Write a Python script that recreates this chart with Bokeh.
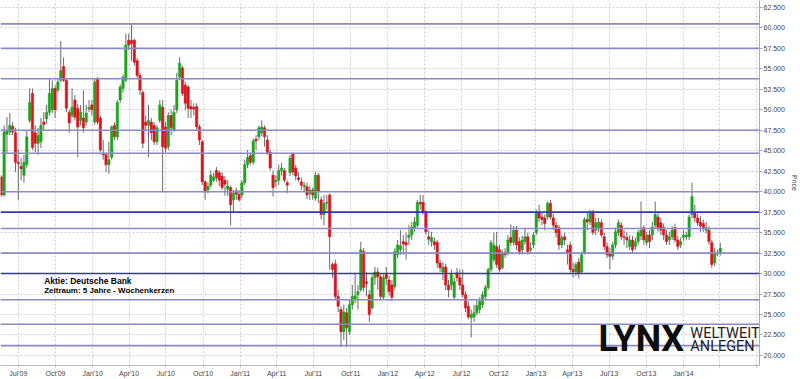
import pandas as pd
from bokeh.plotting import figure
from bokeh.models import (Range1d, FixedTicker, Span, Label, ColumnDataSource,
                          NumeralTickFormatter)
from bokeh.embed import file_html
from bokeh.resources import INLINE

# ---------------- data (weekly candles, Deutsche Bank) ----------------
first_week = "2009-05-20"

opens = [
    41.8, 39.6, 47.0, 47.3, 48.0, 47.2, 43.6, 43.1, 42.0, 43.3,
    48.7, 52.0, 47.2, 45.9, 46.1, 48.5, 48.9, 49.7, 50.0, 52.6,
    52.4, 53.6, 55.3, 53.6, 49.7, 49.3, 51.2, 50.2, 48.7, 49.0,
    48.5, 50.1, 50.6, 48.5, 53.7, 49.0, 44.7, 44.5, 43.3, 44.2,
    48.1, 46.7, 51.2, 52.6, 53.6, 58.5, 58.5, 58.5, 56.0, 54.2,
    52.1, 48.5, 48.1, 48.5, 48.1, 46.1, 48.7, 50.3, 47.9, 45.5,
    49.3, 47.5, 50.0, 54.0, 55.1, 53.0, 52.8, 50.4, 50.3, 50.4,
    47.9, 46.1, 41.2, 40.2, 40.8, 41.4, 42.6, 42.3, 41.9, 41.4,
    40.3, 40.5, 39.0, 40.1, 39.7, 39.6, 41.1, 43.3, 44.4, 43.6,
    46.4, 46.7, 47.2, 47.8, 46.3, 44.8, 42.0, 41.2, 41.4, 42.6,
    42.6, 41.1, 42.3, 44.6, 42.9, 41.7, 41.2, 40.6, 40.6, 39.8,
    40.2, 39.2, 42.0, 39.0, 37.2, 38.6, 39.6, 31.1, 31.2, 27.2,
    25.6, 22.9, 25.2, 22.9, 26.2, 26.8, 27.4, 28.0, 32.7, 29.0,
    27.4, 25.8, 29.5, 30.2, 29.6, 27.1, 29.9, 29.2, 28.6, 28.4,
    32.3, 32.9, 33.9, 33.8, 34.4, 34.7, 35.6, 35.9, 38.7, 38.7,
    37.5, 34.5, 33.9, 33.9, 33.8, 31.3, 30.2, 30.8, 28.6, 28.6,
    27.1, 30.1, 29.5, 28.6, 27.4, 26.0, 24.6, 24.7, 25.2, 25.6,
    26.2, 27.2, 28.3, 30.5, 31.7, 33.3, 32.9, 30.7, 32.6, 32.5,
    34.4, 33.8, 35.3, 33.9, 32.9, 33.9, 34.5, 32.9, 33.5, 35.0,
    37.4, 36.9, 36.8, 36.9, 38.6, 36.8, 35.9, 35.6, 33.5, 34.5,
    32.9, 33.5, 30.5, 30.2, 31.4, 30.2, 32.5, 36.6, 36.3, 37.5,
    35.3, 35.6, 36.2, 34.5, 33.3, 32.5, 32.1, 33.5, 35.0, 35.9,
    34.5, 34.4, 33.3, 34.1, 33.3, 33.9, 34.6, 35.6, 33.8, 34.7,
    34.7, 35.9, 36.9, 36.2, 35.6, 34.7, 34.1, 34.5, 35.6, 34.1,
    33.5, 34.4, 34.5, 34.5, 37.2, 37.4, 36.8, 36.3, 36.1, 35.3,
    35.3, 33.8, 31.3, 32.5, 32.5,
]
highs = [
    42.0, 48.1, 49.1, 49.6, 48.5, 47.8, 45.1, 44.1, 44.5, 47.5,
    52.6, 52.6, 48.1, 47.8, 49.0, 49.7, 50.6, 53.8, 53.6, 53.0,
    53.8, 58.4, 56.4, 53.9, 50.0, 52.6, 51.8, 50.7, 50.6, 52.4,
    50.6, 51.2, 51.2, 53.8, 54.0, 49.3, 46.3, 44.8, 46.1, 48.1,
    48.5, 51.2, 53.1, 54.3, 59.3, 59.3, 60.5, 58.7, 56.3, 54.5,
    52.4, 49.3, 50.6, 49.0, 48.5, 48.1, 51.2, 51.2, 48.5, 49.7,
    50.0, 50.6, 54.5, 56.4, 55.4, 53.4, 53.0, 51.2, 50.8, 50.8,
    48.2, 46.3, 41.4, 41.1, 42.6, 42.3, 43.0, 42.6, 42.4, 41.9,
    41.4, 40.7, 40.2, 40.5, 40.2, 41.4, 43.9, 45.1, 44.7, 46.5,
    46.9, 48.1, 48.7, 48.1, 46.9, 45.1, 42.6, 42.0, 43.3, 43.5,
    42.9, 41.4, 44.5, 44.8, 43.3, 42.4, 41.7, 41.2, 41.1, 40.7,
    40.5, 42.4, 42.3, 39.4, 39.6, 39.6, 39.8, 31.4, 31.7, 28.0,
    26.0, 26.2, 25.8, 26.8, 28.6, 30.1, 28.6, 33.9, 33.1, 30.2,
    28.0, 29.9, 30.8, 30.7, 29.9, 29.9, 30.8, 29.7, 29.2, 33.1,
    34.1, 35.3, 34.7, 35.0, 35.9, 36.3, 36.9, 39.0, 39.6, 39.6,
    37.8, 35.3, 35.1, 34.4, 34.1, 31.7, 31.4, 31.2, 29.2, 30.5,
    29.5, 30.7, 30.5, 30.5, 27.8, 26.6, 25.6, 26.2, 26.8, 27.1,
    27.8, 28.6, 30.7, 34.1, 35.0, 35.1, 33.5, 32.9, 33.1, 34.7,
    36.0, 35.8, 35.8, 34.4, 34.6, 35.6, 35.0, 33.8, 35.1, 37.8,
    38.4, 37.5, 37.2, 38.8, 39.0, 37.3, 36.3, 35.9, 34.7, 35.0,
    33.5, 33.9, 31.4, 31.4, 31.9, 32.7, 36.9, 37.5, 37.8, 37.8,
    36.8, 36.8, 36.6, 35.0, 33.8, 33.1, 33.9, 35.6, 36.6, 36.3,
    35.3, 35.1, 34.7, 34.6, 34.4, 35.3, 38.8, 35.9, 35.1, 35.3,
    36.3, 38.8, 37.5, 36.8, 36.1, 35.3, 35.1, 35.8, 36.1, 34.6,
    34.4, 35.3, 35.1, 37.2, 41.1, 38.4, 37.3, 37.0, 36.6, 36.3,
    35.8, 34.1, 33.1, 32.9, 33.8,
]
lows = [
    39.4, 39.4, 44.7, 46.9, 46.9, 42.4, 39.0, 41.4, 41.1, 42.9,
    48.4, 45.1, 44.8, 44.5, 45.3, 47.5, 48.3, 49.3, 49.6, 49.0,
    52.1, 53.4, 53.4, 49.7, 47.2, 49.0, 48.7, 44.2, 48.1, 47.2,
    48.1, 49.7, 49.3, 48.2, 48.2, 44.8, 43.9, 42.4, 42.2, 43.9,
    46.3, 46.3, 50.8, 52.1, 53.4, 57.3, 56.0, 55.4, 53.9, 51.8,
    45.3, 47.5, 44.2, 46.3, 45.7, 45.7, 48.4, 40.0, 44.8, 45.1,
    46.9, 47.3, 49.6, 53.6, 51.7, 50.0, 49.0, 49.0, 49.3, 47.5,
    45.7, 40.8, 39.0, 39.8, 40.5, 41.2, 41.2, 40.7, 40.2, 39.5,
    39.5, 35.9, 37.5, 39.0, 38.8, 39.2, 40.8, 42.9, 43.3, 43.3,
    45.1, 46.3, 46.8, 45.5, 44.5, 42.6, 39.4, 40.6, 40.8, 42.0,
    41.1, 39.8, 41.9, 42.0, 41.4, 41.2, 40.2, 40.0, 39.1, 39.0,
    39.0, 38.9, 38.6, 36.6, 35.9, 37.8, 30.5, 29.5, 26.8, 25.3,
    21.0, 21.9, 21.0, 22.5, 25.6, 26.4, 25.6, 27.8, 27.8, 27.2,
    24.1, 25.6, 28.6, 28.0, 26.8, 26.8, 28.6, 27.3, 26.6, 28.0,
    31.9, 32.3, 32.3, 31.7, 33.5, 34.1, 35.1, 35.6, 37.8, 37.2,
    34.7, 33.5, 33.3, 32.9, 30.7, 30.2, 29.2, 28.0, 27.1, 28.0,
    26.8, 29.0, 28.0, 27.1, 25.3, 24.4, 22.2, 24.1, 24.9, 25.1,
    25.8, 26.8, 28.0, 30.2, 31.4, 30.7, 30.2, 30.5, 31.9, 32.2,
    33.4, 33.4, 32.9, 32.3, 32.3, 33.5, 32.3, 32.5, 33.1, 34.7,
    36.3, 35.9, 35.3, 36.6, 36.6, 35.3, 34.4, 32.9, 33.1, 33.5,
    31.1, 30.1, 29.5, 29.7, 29.4, 30.0, 32.3, 35.3, 35.9, 34.7,
    34.7, 35.1, 34.4, 32.9, 31.9, 30.5, 31.7, 33.1, 34.6, 34.1,
    33.5, 33.1, 32.9, 32.5, 32.9, 33.5, 34.1, 33.5, 33.4, 33.1,
    34.1, 35.6, 35.1, 34.7, 34.1, 33.5, 33.5, 34.1, 33.8, 32.9,
    33.1, 34.0, 34.1, 34.1, 36.8, 36.3, 35.8, 35.1, 35.1, 34.9,
    33.5, 30.7, 30.9, 32.1, 32.2,
]
closes = [
    39.6, 47.3, 47.4, 48.1, 47.3, 43.6, 43.4, 42.8, 43.6, 46.7,
    50.9, 45.4, 45.9, 46.9, 48.1, 48.2, 49.7, 52.0, 52.6, 50.0,
    53.4, 54.8, 53.6, 50.2, 48.4, 50.3, 49.1, 47.9, 49.7, 47.8,
    49.6, 50.3, 50.0, 53.4, 48.5, 45.1, 44.5, 43.3, 43.9, 47.9,
    46.7, 50.9, 52.8, 54.0, 57.9, 57.9, 58.1, 55.8, 54.2, 52.4,
    45.9, 48.1, 48.7, 47.2, 46.1, 47.8, 50.6, 45.5, 45.3, 49.3,
    47.8, 49.7, 53.6, 55.7, 52.0, 50.8, 50.2, 50.1, 50.1, 47.9,
    46.3, 41.2, 40.0, 40.7, 42.0, 41.8, 41.7, 41.4, 40.5, 40.9,
    40.7, 38.4, 39.8, 39.7, 39.0, 41.1, 43.3, 44.2, 43.6, 46.2,
    46.2, 47.8, 47.9, 46.7, 44.8, 42.9, 40.5, 41.4, 42.6, 42.9,
    41.4, 40.8, 44.1, 42.4, 41.9, 41.5, 40.8, 40.8, 39.6, 40.2,
    39.6, 42.0, 40.0, 37.2, 38.6, 38.7, 34.5, 30.5, 27.2, 26.0,
    22.9, 25.3, 23.4, 26.2, 27.2, 27.3, 27.8, 32.9, 28.3, 28.8,
    25.0, 29.5, 30.2, 29.6, 27.2, 29.5, 29.4, 27.8, 27.1, 32.7,
    33.5, 33.4, 33.6, 33.5, 34.7, 35.7, 36.3, 38.7, 38.5, 37.5,
    35.1, 34.2, 34.4, 33.5, 31.3, 30.7, 30.8, 28.6, 28.0, 29.9,
    29.0, 29.5, 28.6, 27.4, 25.8, 24.7, 25.0, 25.2, 26.1, 26.6,
    27.4, 28.3, 30.5, 33.8, 33.5, 31.1, 30.5, 32.5, 32.3, 34.1,
    33.8, 35.3, 33.5, 32.7, 34.1, 34.5, 32.7, 33.1, 34.7, 37.4,
    36.8, 36.6, 36.1, 38.6, 36.9, 35.9, 35.0, 33.5, 34.4, 34.1,
    32.5, 30.5, 30.2, 31.1, 30.1, 32.3, 36.6, 36.3, 37.5, 35.0,
    36.2, 36.3, 34.7, 33.3, 32.3, 32.1, 33.5, 35.1, 36.2, 34.5,
    34.4, 34.1, 34.1, 32.9, 33.9, 35.0, 35.3, 34.1, 34.7, 33.9,
    35.7, 37.2, 35.6, 35.3, 34.7, 33.9, 34.5, 35.3, 34.1, 33.3,
    33.9, 34.7, 34.7, 36.9, 39.4, 36.8, 36.2, 35.8, 35.6, 35.6,
    33.9, 31.1, 32.6, 32.4, 33.1,
]

# analyst's horizontal support / resistance lines
light_levels = [60.5, 57.5, 53.8, 47.5, 44.7, 40.0, 35.5, 32.5, 26.8, 23.8, 21.2]
strong_levels = [37.5, 30.0]

# axis ticks
x_tick_dates = ["2009-07-01", "2009-10-01", "2010-01-01", "2010-04-01", "2010-07-01",
                "2010-10-01", "2011-01-01", "2011-04-01", "2011-07-01", "2011-10-01",
                "2012-01-01", "2012-04-01", "2012-07-01", "2012-10-01", "2013-01-01",
                "2013-04-01", "2013-07-01", "2013-10-01", "2014-01-01", "2014-04-01",
                "2014-07-01"]
x_tick_labels = ["Jul'09", "Oct'09", "Jan'10", "Apr'10", "Jul'10", "Oct'10", "Jan'11",
                 "Apr'11", "Jul'11", "Oct'11", "Jan'12", "Apr'12", "Jul'12", "Oct'12",
                 "Jan'13", "Apr'13", "Jul'13", "Oct'13", "Jan'14", "", ""]
y_ticks = [20.0, 22.5, 25.0, 27.5, 30.0, 32.5, 35.0, 37.5, 40.0, 42.5, 45.0,
           47.5, 50.0, 52.5, 55.0, 57.5, 60.0, 62.5]

# ---------------- build ----------------
def ms(d):
    return float(pd.Timestamp(d).value // 10**6)

DAY = 86400000.0
dates = pd.date_range(first_week, periods=len(closes), freq="7D")
up_col, dn_col = "#1ea51e", "#d9161c"
src = ColumnDataSource(dict(
    date=dates,
    top=[max(o, c) for o, c in zip(opens, closes)],
    bottom=[min(o, c) for o, c in zip(opens, closes)],
    high=highs, low=lows,
    color=[up_col if c >= o else dn_col for o, c in zip(opens, closes)],
))

p = figure(width=800, height=379, x_axis_type="datetime", y_axis_location="right",
           toolbar_location=None, output_backend="svg",
           x_range=Range1d(ms("2009-05-18"), ms("2014-07-08")),
           y_range=Range1d(18.77, 63.35),
           min_border_left=0, min_border_top=0, min_border_right=0, min_border_bottom=0)
p.outline_line_color = None
p.background_fill_color = "white"

tick_ms = [ms(d) for d in x_tick_dates]
p.xgrid.ticker = FixedTicker(ticks=tick_ms)
p.ygrid.ticker = FixedTicker(ticks=y_ticks)
for g in (p.xgrid, p.ygrid):
    g.grid_line_color = "#cdcdcd"
    g.grid_line_dash = "2 2"
    g.grid_line_width = 1

for lv in light_levels:
    p.add_layout(Span(location=lv, dimension="width", line_color="#8a8ac6", line_width=1.6))
for lv in strong_levels:
    p.add_layout(Span(location=lv, dimension="width", line_color="#3434c0", line_width=1.6))

p.segment(x0="date", y0="high", x1="date", y1="low", source=src,
          line_color="#6a6a6a", line_width=1)
p.vbar(x="date", width=6 * DAY, top="top", bottom="bottom", source=src,
       fill_color="color", line_color="color", line_width=0.5)

# axes
xa = p.xaxis[0]
xa.ticker = FixedTicker(ticks=tick_ms)
xa.major_label_overrides = {t: l for t, l in zip(tick_ms, x_tick_labels)}
xa.major_label_text_font = "Liberation Sans"
xa.major_label_text_font_size = "7px"
xa.major_label_text_color = "#444444"
xa.major_label_standoff = 2
xa.major_tick_out = 2
xa.major_tick_in = 0
xa.minor_tick_line_color = None
xa.axis_line_color = "#bbbbbb"
xa.major_tick_line_color = "#bbbbbb"

ya = p.yaxis[0]
ya.ticker = FixedTicker(ticks=y_ticks)
ya.formatter = NumeralTickFormatter(format="0.000")
ya.major_label_text_font = "Liberation Sans"
ya.major_label_text_font_size = "7px"
ya.major_label_text_color = "#444444"
ya.major_label_standoff = 1
ya.major_tick_out = 3
ya.major_tick_in = 0
ya.minor_tick_line_color = None
ya.axis_line_color = "#aaaaaa"
ya.major_tick_line_color = "#aaaaaa"
ya.axis_label = "Price"
ya.axis_label_text_font = "Liberation Sans"
ya.axis_label_text_font_size = "7px"
ya.axis_label_text_font_style = "normal"
ya.axis_label_text_color = "#444444"
ya.axis_label_standoff = 3

# annotations
p.add_layout(Label(x=ms("2009-09-03"), y=29.1, text="Aktie: Deutsche Bank",
                   text_font="Liberation Sans", text_font_size="8.5px",
                   text_font_style="bold", text_baseline="middle", text_color="black"))
p.add_layout(Label(x=ms("2009-09-03"), y=27.9, text="Zeitraum: 5 Jahre - Wochenkerzen",
                   text_font="Liberation Sans", text_font_size="8px",
                   text_font_style="bold", text_baseline="middle", text_color="black"))
p.add_layout(Label(x=ms("2013-06-05"), y=24.55, text="LYNX",
                   text_font="Roboto", text_font_size="36px",
                   text_font_style="bold", text_baseline="top", text_color="#0d0d0d"))
p.add_layout(Label(x=ms("2014-01-18"), y=22.67, text="WELTWEIT",
                   text_font="Roboto", text_font_size="14.5px",
                   text_baseline="alphabetic", text_color="#222222"))
p.add_layout(Label(x=ms("2014-01-18"), y=21.09, text="ANLEGEN",
                   text_font="Roboto", text_font_size="14.5px",
                   text_baseline="alphabetic", text_color="#222222"))

open("out.html", "w").write(file_html(p, INLINE))
